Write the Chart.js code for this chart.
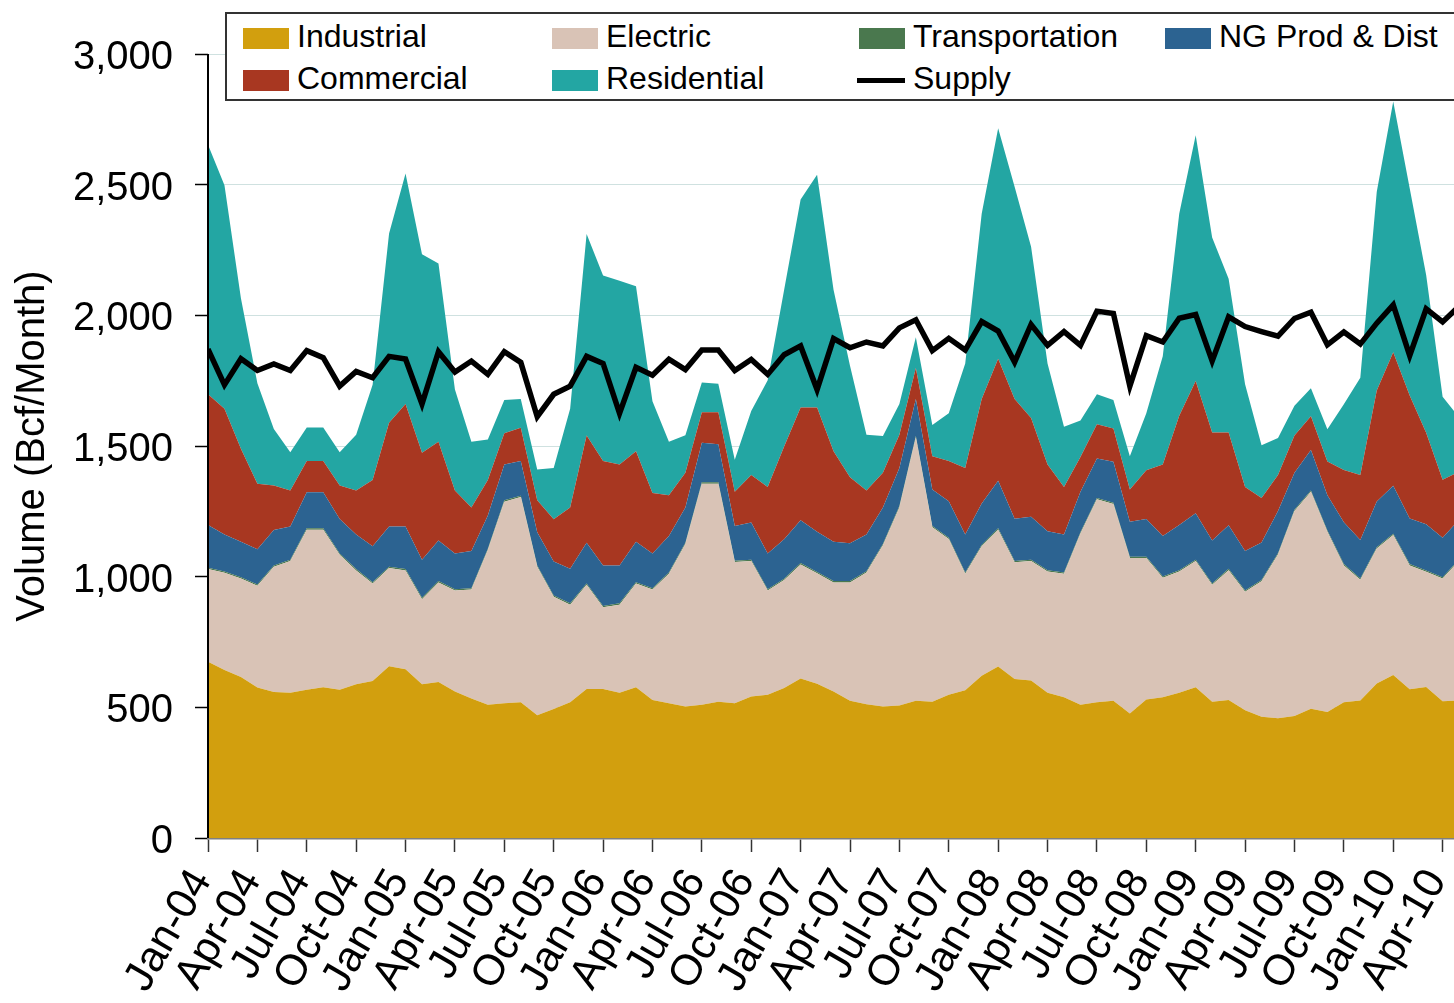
<!DOCTYPE html>
<html>
<head>
<meta charset="utf-8">
<script src="https://cdn.jsdelivr.net/npm/chart.js@4.4.0/dist/chart.umd.min.js"></script>
<style>
  html, body { margin: 0; padding: 0; overflow: hidden; background: #fff; }
  #marco { position: relative; width: 1454px; height: 1003px; overflow: hidden; }
  #grafico { position: absolute; left: 0; top: 0; }
  #leyenda { position: absolute; left: 225px; top: 12px; width: 1300px; height: 85px;
             border: 2px solid #333; background: #fff; }
  .txt { position: absolute; font: 32px "Liberation Sans", Arial, sans-serif; line-height: 32px;
         color: #000; white-space: nowrap; }
  .sw { position: absolute; width: 46px; height: 21px; }
</style>
</head>
<body>
<div id="marco">
  <canvas id="grafico" width="1492" height="1003"></canvas>
  <div id="leyenda"></div>
  <div id="items"></div>
</div>
<script>
// Etiquetas del eje X (una cada 3 meses, desde Jan-04)
const etiquetasTrimestre = ["Jan-04","Apr-04","Jul-04","Oct-04","Jan-05","Apr-05","Jul-05","Oct-05",
  "Jan-06","Apr-06","Jul-06","Oct-06","Jan-07","Apr-07","Jul-07","Oct-07","Jan-08","Apr-08",
  "Jul-08","Oct-08","Jan-09","Apr-09","Jul-09","Oct-09","Jan-10","Apr-10"];

// Valores mensuales (Bcf/Month), Jan-04 .. May-10
const industrial = [674,643,616,576,559,556,567,577,567,588,601,657,
  646,588,597,561,534,510,516,519,470,494,519,570,
  570,556,577,528,516,503,510,521,516,541,548,574,
  610,590,561,525,512,503,507,525,521,548,565,621,
  656,608,603,556,539,510,519,525,476,530,539,556,
  577,521,528,489,464,458,467,495,482,519,526,591,
  624,569,578,523,526];

const electric = [355,372,377,389,479,504,613,603,517,436,373,376,
  378,326,381,386,417,592,771,786,568,429,374,399,
  313,337,397,423,495,622,846,835,540,519,399,413,
  437,423,417,453,504,617,758,1008,668,596,446,495,
  524,447,457,464,472,655,777,753,595,541,457,464,
  483,448,497,453,518,627,784,830,690,524,462,517,
  535,474,441,470,535];

const transportation = [5,5,5,5,5,5,5,5,5,5,5,5,
  5,5,5,5,5,5,5,5,5,5,5,5,
  5,5,5,5,5,5,5,5,5,5,5,5,
  5,5,5,5,5,5,5,5,5,5,5,5,
  5,5,5,5,5,5,5,5,5,5,5,5,
  5,5,5,5,5,5,5,5,5,5,5,5,
  5,5,5,5,5];

const ngProdDist = [164,141,136,135,136,127,138,138,132,132,137,154,
  163,146,155,137,142,127,137,133,127,130,132,156,
  155,145,155,133,140,135,151,146,133,142,137,151,
  164,154,151,145,140,140,146,142,140,140,145,159,
  182,162,164,149,145,155,151,157,134,145,155,173,
  178,164,167,151,144,161,142,155,135,160,147,175,
  184,175,177,151,152];

const commercial = [500,482,355,251,170,138,120,120,128,169,254,397,
  469,409,378,241,167,136,120,127,122,162,235,410,
  400,386,346,231,156,133,117,122,131,182,254,355,
  431,475,346,252,169,133,127,118,127,154,255,400,
  467,458,378,255,182,133,131,127,124,186,273,418,
  506,414,355,245,170,138,142,129,129,200,249,424,
  511,470,350,222,184];

const residential = [955,855,576,384,216,146,128,128,127,213,364,724,
  882,760,682,386,251,155,127,110,118,196,378,771,
  709,703,631,351,204,143,114,109,122,245,409,600,
  796,891,618,427,213,140,118,118,119,182,400,709,
  882,812,655,387,231,140,115,109,127,218,414,773,
  940,746,588,393,202,142,114,107,123,252,372,761,
  959,793,603,317,208];

const supply = [1871,1734,1834,1789,1814,1789,1865,1838,1729,1785,1761,1843,
  1833,1661,1861,1783,1825,1774,1861,1820,1612,1698,1729,1843,
  1816,1625,1801,1771,1832,1792,1867,1867,1789,1831,1774,1849,
  1883,1716,1911,1876,1898,1883,1952,1983,1865,1912,1867,1976,
  1940,1821,1965,1885,1938,1885,2016,2007,1729,1922,1898,1989,
  2003,1825,1994,1957,1938,1920,1988,2012,1887,1936,1890,1970,
  2040,1846,2025,1975,2035];

const colores = {
  industrial: "#D29F0E",
  electric: "#D9C3B6",
  transportation: "#4A784E",
  ngProdDist: "#2C6391",
  commercial: "#A83721",
  residential: "#23A6A3",
  supply: "#000000"
};

const FUENTE = '"Liberation Sans", Arial, sans-serif';

// convierte la serie a puntos {x: índice de mes, y: valor}
const puntos = (serie) => serie.map((v, i) => ({ x: i, y: v }));

function area(nombre, serie, color, relleno) {
  return {
    label: nombre,
    data: puntos(serie),
    stack: "consumo",
    order: 1,
    backgroundColor: color,
    borderColor: color,
    borderWidth: 0,
    pointRadius: 0,
    tension: 0,
    fill: relleno
  };
}

const datasets = [
  area("Industrial", industrial, colores.industrial, "origin"),
  area("Electric", electric, colores.electric, "-1"),
  area("Transportation", transportation, colores.transportation, "-1"),
  area("NG Prod & Dist", ngProdDist, colores.ngProdDist, "-1"),
  area("Commercial", commercial, colores.commercial, "-1"),
  area("Residential", residential, colores.residential, "-1"),
  {
    label: "Supply",
    data: puntos(supply),
    stack: "oferta",
    order: 0,
    borderColor: colores.supply,
    backgroundColor: colores.supply,
    borderWidth: 5.5,
    pointRadius: 0,
    tension: 0,
    fill: false
  }
];

// Eje Y dibujado encima de las áreas (como en el original)
const ejeIzquierdo = {
  id: "ejeIzquierdo",
  afterDatasetsDraw(chart) {
    const { ctx, chartArea } = chart;
    ctx.save();
    ctx.strokeStyle = "#000";
    ctx.lineWidth = 2;
    ctx.beginPath();
    ctx.moveTo(chartArea.left, chartArea.top);
    ctx.lineTo(chartArea.left, chartArea.bottom);
    ctx.stroke();
    ctx.restore();
  }
};

new Chart(document.getElementById("grafico"), {
  type: "line",
  data: { datasets: datasets },
  plugins: [ejeIzquierdo],
  options: {
    responsive: false,
    animation: false,
    layout: { padding: { top: 54, left: 0, right: 0, bottom: 0 } },
    plugins: { legend: { display: false }, tooltip: { enabled: false } },
    scales: {
      x: {
        type: "linear",
        min: 0,
        max: 78,
        z: 1,
        afterFit: (scale) => {
          scale.height = 165;
          scale.paddingLeft = 0;
          scale.paddingRight = 0;
        },
        grid: { drawOnChartArea: false, tickLength: 14, tickColor: "#333", tickWidth: 1.5 },
        border: { color: "#7f7f7f", width: 2.5 },
        ticks: {
          stepSize: 3,
          includeBounds: false,
          autoSkip: false,
          minRotation: 60,
          maxRotation: 60,
          padding: 9,
          labelOffset: -6,
          color: "#000",
          font: { family: FUENTE, size: 43 },
          callback: (valor) => etiquetasTrimestre[valor / 3]
        }
      },
      y: {
        stacked: true,
        min: 0,
        max: 3000,
        afterFit: (scale) => { scale.width = 208; },
        grid: { color: "#cfe1e0", lineWidth: 1, tickLength: 13, tickColor: "#000", tickWidth: 1.5 },
        border: { display: false },
        ticks: {
          stepSize: 500,
          padding: 22,
          labelOffset: 4,
          color: "#000",
          font: { family: FUENTE, size: 40 },
          callback: (valor) => valor.toLocaleString("en-US")
        },
        title: {
          display: true,
          text: "Volume (Bcf/Month)",
          color: "#000",
          font: { family: FUENTE, size: 40 },
          padding: { top: 9, bottom: 0 }
        }
      }
    }
  }
});

// Leyenda en HTML: 4 columnas, 2 filas
const itemsLeyenda = [
  { texto: "Industrial", color: colores.industrial, col: 0, fila: 0 },
  { texto: "Electric", color: colores.electric, col: 1, fila: 0 },
  { texto: "Transportation", color: colores.transportation, col: 2, fila: 0 },
  { texto: "NG Prod & Dist", color: colores.ngProdDist, col: 3, fila: 0 },
  { texto: "Commercial", color: colores.commercial, col: 0, fila: 1 },
  { texto: "Residential", color: colores.residential, col: 1, fila: 1 },
  { texto: "Supply", color: colores.supply, col: 2, fila: 1, linea: true }
];
const colX = [243, 552, 859, 1165];
const filaY = [28, 70];
const contenedor = document.getElementById("items");
itemsLeyenda.forEach(it => {
  const sw = document.createElement("div");
  sw.className = "sw";
  sw.style.left = colX[it.col] + "px";
  if (it.linea) {
    sw.style.top = (filaY[it.fila] + 8) + "px";
    sw.style.height = "5px";
    sw.style.width = "48px";
    sw.style.left = (colX[it.col] - 2) + "px";
  } else {
    sw.style.top = filaY[it.fila] + "px";
  }
  sw.style.background = it.color;
  contenedor.appendChild(sw);

  const t = document.createElement("div");
  t.className = "txt";
  t.textContent = it.texto;
  t.style.left = (colX[it.col] + 54) + "px";
  t.style.top = (filaY[it.fila] - 8) + "px";
  contenedor.appendChild(t);
});
</script>
</body>
</html>
